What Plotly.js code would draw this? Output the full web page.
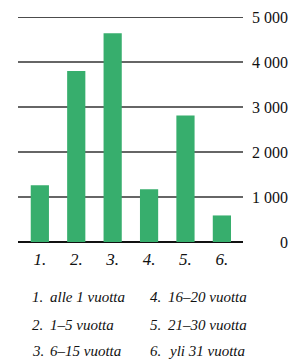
<!DOCTYPE html>
<html><head><meta charset="utf-8">
<script src="https://cdn.plot.ly/plotly-3.0.1.min.js"></script>
<style>html,body{margin:0;padding:0;background:#fff}#c{width:304px;height:363px}</style>
</head><body><div id="c"></div>
<script>
const categories = ["1.", "2.", "3.", "4.", "5.", "6."];
const values = [1260, 3800, 4640, 1170, 2810, 590];
const tickVals = [0, 1000, 2000, 3000, 4000, 5000];
const tickText = ["0", "1 000", "2 000", "3 000", "4 000", "5 000"];
const legendNums = ["1.", "2.", "3.", "4.", "5.", "6."];
const legendText = ["alle 1 vuotta", "1–5 vuotta", "6–15 vuotta", "16–20 vuotta", "21–30 vuotta", "yli 31 vuotta"];

const serif = "Liberation Serif";
const L = 18, R = 61, T = 17, B = 121, W = 304, H = 363;
const pw = W - L - R, ph = H - T - B;
const annotations = [];
tickVals.forEach((v, i) => annotations.push({
  x: 1, xref: 'paper', y: v, yref: 'y', text: tickText[i], showarrow: false,
  xanchor: 'right', yanchor: 'middle', xshift: 47,
  font: {family: serif, size: 16, color: '#111'}
}));
const rowY = [297, 325, 351];
legendText.forEach((t, i) => {
  const col = Math.floor(i / 3), row = i % 3;
  const xBase = col === 0 ? 30 : 148;
  const yp = (H - B - rowY[row]) / ph;
  annotations.push({x: (xBase - L) / pw, xref: 'paper', y: yp, yref: 'paper', text: '<i>' + legendNums[i] + '</i>', showarrow: false,
    xanchor: 'left', yanchor: 'middle', font: {family: serif, size: 15, color: '#111'}});
  annotations.push({x: (xBase + 18 - L) / pw, xref: 'paper', y: yp, yref: 'paper', text: '<i>' + t + '</i>', showarrow: false,
    xanchor: 'left', yanchor: 'middle', font: {family: serif, size: 15, color: '#111'}});
});

const data = [{
  type: 'bar', x: categories, y: values, width: 0.5,
  marker: {color: '#37ae6d'}, hoverinfo: 'none'
}];
const layout = {
  width: W, height: H, margin: {l: L, r: R, t: T, b: B},
  paper_bgcolor: '#fff', plot_bgcolor: '#fff', showlegend: false,
  font: {family: serif},
  xaxis: {type: 'category', range: [-0.6, 5.58], showgrid: false, zeroline: false, showline: false,
    ticks: 'outside', ticklen: 2, tickcolor: 'rgba(0,0,0,0)', tickfont: {family: serif, size: 17, color: '#111'}, tickangle: 0,
    tickvals: categories, ticktext: categories.map(c => '<i>' + c + '</i>')},
  yaxis: {range: [0, 5000], tickvals: tickVals, showticklabels: false, showgrid: true,
    gridcolor: '#666', gridwidth: 1.4, zeroline: true, zerolinecolor: '#111', zerolinewidth: 1.5,
    showline: false, ticks: ''},
  shapes: [{type: 'line', xref: 'paper', x0: 0, x1: 1, yref: 'y', y0: tickVals[5], y1: tickVals[5],
    line: {color: '#111', width: 1.4}, layer: 'below'}],
  annotations: annotations
};
Plotly.newPlot('c', data, layout, {staticPlot: true, displayModeBar: false});
</script></body></html>
